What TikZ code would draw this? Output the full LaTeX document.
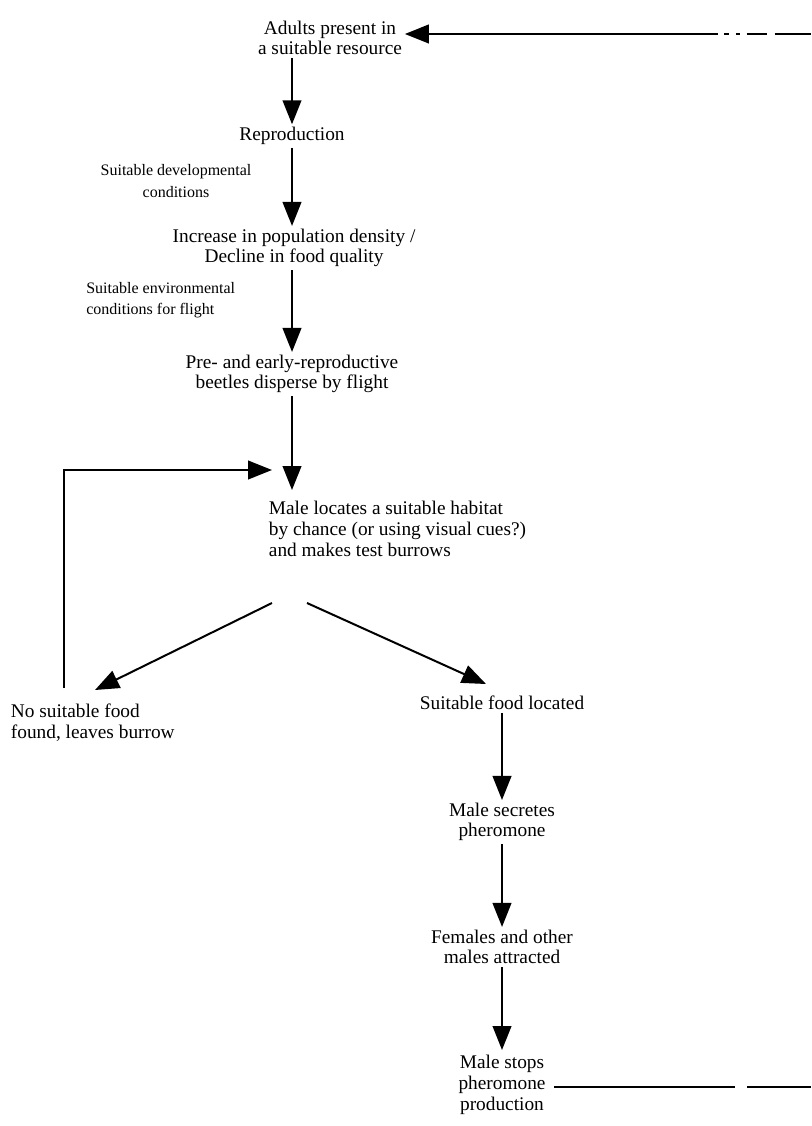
\documentclass[tikz,border=0pt]{standalone}
\usepackage{fontspec}
\setmainfont{Liberation Serif}
\usepackage{tikz}
\usetikzlibrary{arrows.meta, positioning, calc}

\begin{document}
\begin{tikzpicture}[
    x=0.75pt, y=0.75pt,
    stage/.style={align=center, inner sep=2pt, font=\fontsize{14.5}{15.5}\selectfont},
    cond/.style={align=center, inner sep=0pt, font=\fontsize{12}{16}\selectfont},
    arrow/.style={line width=1.5pt, ->, >={Triangle[length=18pt, width=14pt]}},
    link/.style={line width=1.5pt}
]
    \useasboundingbox (0,0) rectangle (811,-1126);

    % Stages
    \node[stage] (adults) at (330,-38) {Adults present in\\a suitable resource};
    \node[stage] (repro) at (292,-136) {Reproduction};
    \node[stage] (density) at (294,-248) {Increase in population density /\\Decline in food quality};
    \node[stage] (flight) at (292,-374) {Pre- and early-reproductive\\beetles disperse by flight};
    \node[stage, anchor=west, align=left] (habitat) at (266,-529) {Male locates a suitable habitat\\by chance (or using visual cues?)\\and makes test burrows};
    \node[stage, anchor=west, align=left] (nofood) at (8,-723) {No suitable food\\found, leaves burrow};
    \node[stage] (food) at (502,-703) {Suitable food located};
    \node[stage] (secretes) at (502,-822) {Male secretes\\pheromone};
    \node[stage] (attract) at (502,-947) {Females and other\\males attracted};
    \node[stage] (stops) at (502,-1085) {Male stops\\pheromone\\production};

    % Conditions
    \node[cond] (devcond) at (176,-181) {Suitable developmental\\conditions};
    \node[cond, anchor=west, align=left] (envcond) at (86,-300) {Suitable environmental\\conditions for flight};

    % Helper points
    \coordinate (loopbot) at (64,-688);
    \coordinate (loopend) at (272,-470);
    \coordinate (topright) at (811,-34);
    \coordinate (dashstart) at (718,-34);
    \coordinate (botright) at (811,-1087);
    \coordinate (splitL) at (272,-603);
    \coordinate (splitR) at (307,-603);

    % Main chain
    \draw[arrow] (repro |- 0,-58) -- (repro.north);
    \draw[arrow] (repro.south) -- (repro |- density.north);
    \draw[arrow] (density.south -| repro) -- (repro |- flight.north);
    \draw[arrow] (flight.south -| repro) -- (292,-490);
    \draw[arrow] (splitL) -- (95,-690);
    \draw[arrow] (splitR) -- (486,-684);
    \draw[arrow] (food) -- (secretes);
    \draw[arrow] (secretes) -- (attract);
    \draw[arrow] (attract.south -| 502,0) -- (502,-1050);

    % Feedback paths
    \draw[arrow] (loopbot) |- (loopend);
    \draw[link] (stops.east |- botright) ++(6,0) -- (735,-1087);
    \draw[link] (747,-1087) -- (botright);
    \draw[link, dash pattern=on 0pt off 4.5pt on 3.5pt off 5.5pt on 3pt off 5pt on 15pt off 6pt on 40pt] (dashstart) -- (topright);
    \draw[arrow] (dashstart) -- (adults.east |- topright);
\end{tikzpicture}
\end{document}
